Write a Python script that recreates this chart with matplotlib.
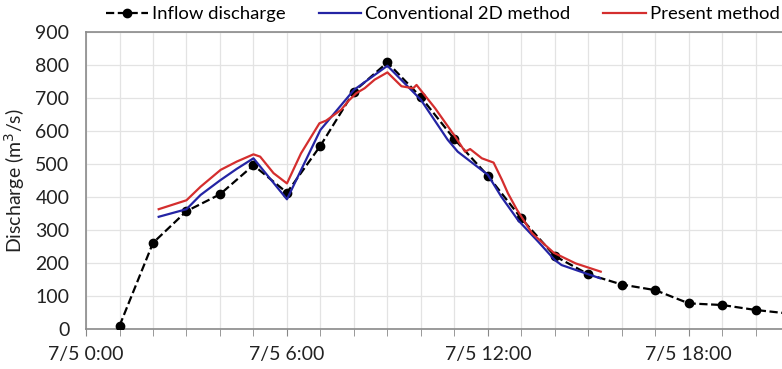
import matplotlib
matplotlib.use("Agg")
from matplotlib import pyplot as plt
from matplotlib.ticker import MultipleLocator

plt.rcParams["font.family"] = ["Lato", "DejaVu Sans"]

# hours after 7/5 0:00
inflow_t = [1, 2, 3, 4, 5, 6, 7, 8, 9, 10, 11, 12, 13, 14, 15, 16, 17, 18, 19, 20, 21]
inflow_q = [10, 261, 357, 408, 496, 413, 555, 719, 807, 702, 575, 464, 335, 221, 166,
            135, 118, 78, 73, 58, 47]

conv_t = [2.17, 3.0, 3.42, 4.0, 4.5, 5.0, 6.0, 7.0, 8.0, 9.0, 10.0, 10.8, 11.1, 12.0,
          12.4, 12.9, 13.5, 14.0, 14.2, 15.0, 15.35]
conv_q = [340, 363, 406, 450, 485, 517, 393, 603, 724, 797, 694, 573, 537, 467,
          401, 330, 265, 209, 194, 166, 154]

pres_t = [2.17, 3.0, 3.42, 4.02, 4.5, 5.0, 5.2, 5.6, 6.0, 6.42, 6.97, 7.17, 7.62, 7.82,
          8.07, 8.32, 8.62, 9.0, 9.42, 9.77, 9.87, 10.42, 11.02, 11.32, 11.47, 11.82,
          12.17, 12.42, 12.6, 12.87, 13.32, 13.97, 14.62, 15.37]
pres_q = [363, 390, 431, 482, 507, 529, 522, 472, 441, 532, 623, 631, 664, 689,
          714, 729, 755, 777, 735, 729, 739, 669, 583, 537, 545, 517,
          504, 452, 411, 361, 290, 231, 199, 174]

tick_hours = [0, 6, 12, 18]
tick_labels = ["7/5 0:00", "7/5 6:00", "7/5 12:00", "7/5 18:00"]

fig = plt.figure(figsize=(7.82, 3.69), dpi=100)
ax = fig.add_axes([0.110, 0.108, 0.895, 0.806])

ax.plot(inflow_t, inflow_q, color="black", linestyle="--", linewidth=1.6,
        marker="o", markersize=6, label="Inflow discharge", zorder=3)
ax.plot(conv_t, conv_q, color="#2424a4", linewidth=1.6,
        label="Conventional 2D method", zorder=4)
ax.plot(pres_t, pres_q, color="#d42e2e", linewidth=1.6,
        label="Present method", zorder=5)

ax.set_xlim(0, 20.9)
ax.set_ylim(0, 900)
ax.yaxis.set_major_locator(MultipleLocator(100))
ax.set_xticks(tick_hours)
ax.set_xticklabels(tick_labels)
ax.xaxis.set_minor_locator(MultipleLocator(1))

ax.grid(True, which="both", axis="x", color="#e3e3e3", linewidth=0.9)
ax.grid(True, which="major", axis="y", color="#e3e3e3", linewidth=0.9)
ax.set_axisbelow(True)

ax.tick_params(axis="x", which="both", direction="out", length=5, color="#888888",
               labelsize=14, pad=7)
ax.tick_params(axis="y", length=0, labelsize=14, pad=12)
ax.tick_params(axis="x", which="major", labelcolor="#222222")
ax.tick_params(axis="y", labelcolor="#222222")

for side in ["left", "bottom", "top"]:
    ax.spines[side].set_color("#8a8a8a")
    ax.spines[side].set_linewidth(1.2)
ax.spines["right"].set_visible(False)

ax.set_ylabel("Discharge (m$^3$/s)", fontsize=14, color="#222222", labelpad=6)

ax.legend(loc="center left", bbox_to_anchor=(0.028, 1.058), ncol=3, frameon=False,
          fontsize=13.3, handlelength=2.3, handletextpad=0.2, columnspacing=1.8,
          borderaxespad=0, borderpad=0)

fig.savefig("out.png", dpi=100)
